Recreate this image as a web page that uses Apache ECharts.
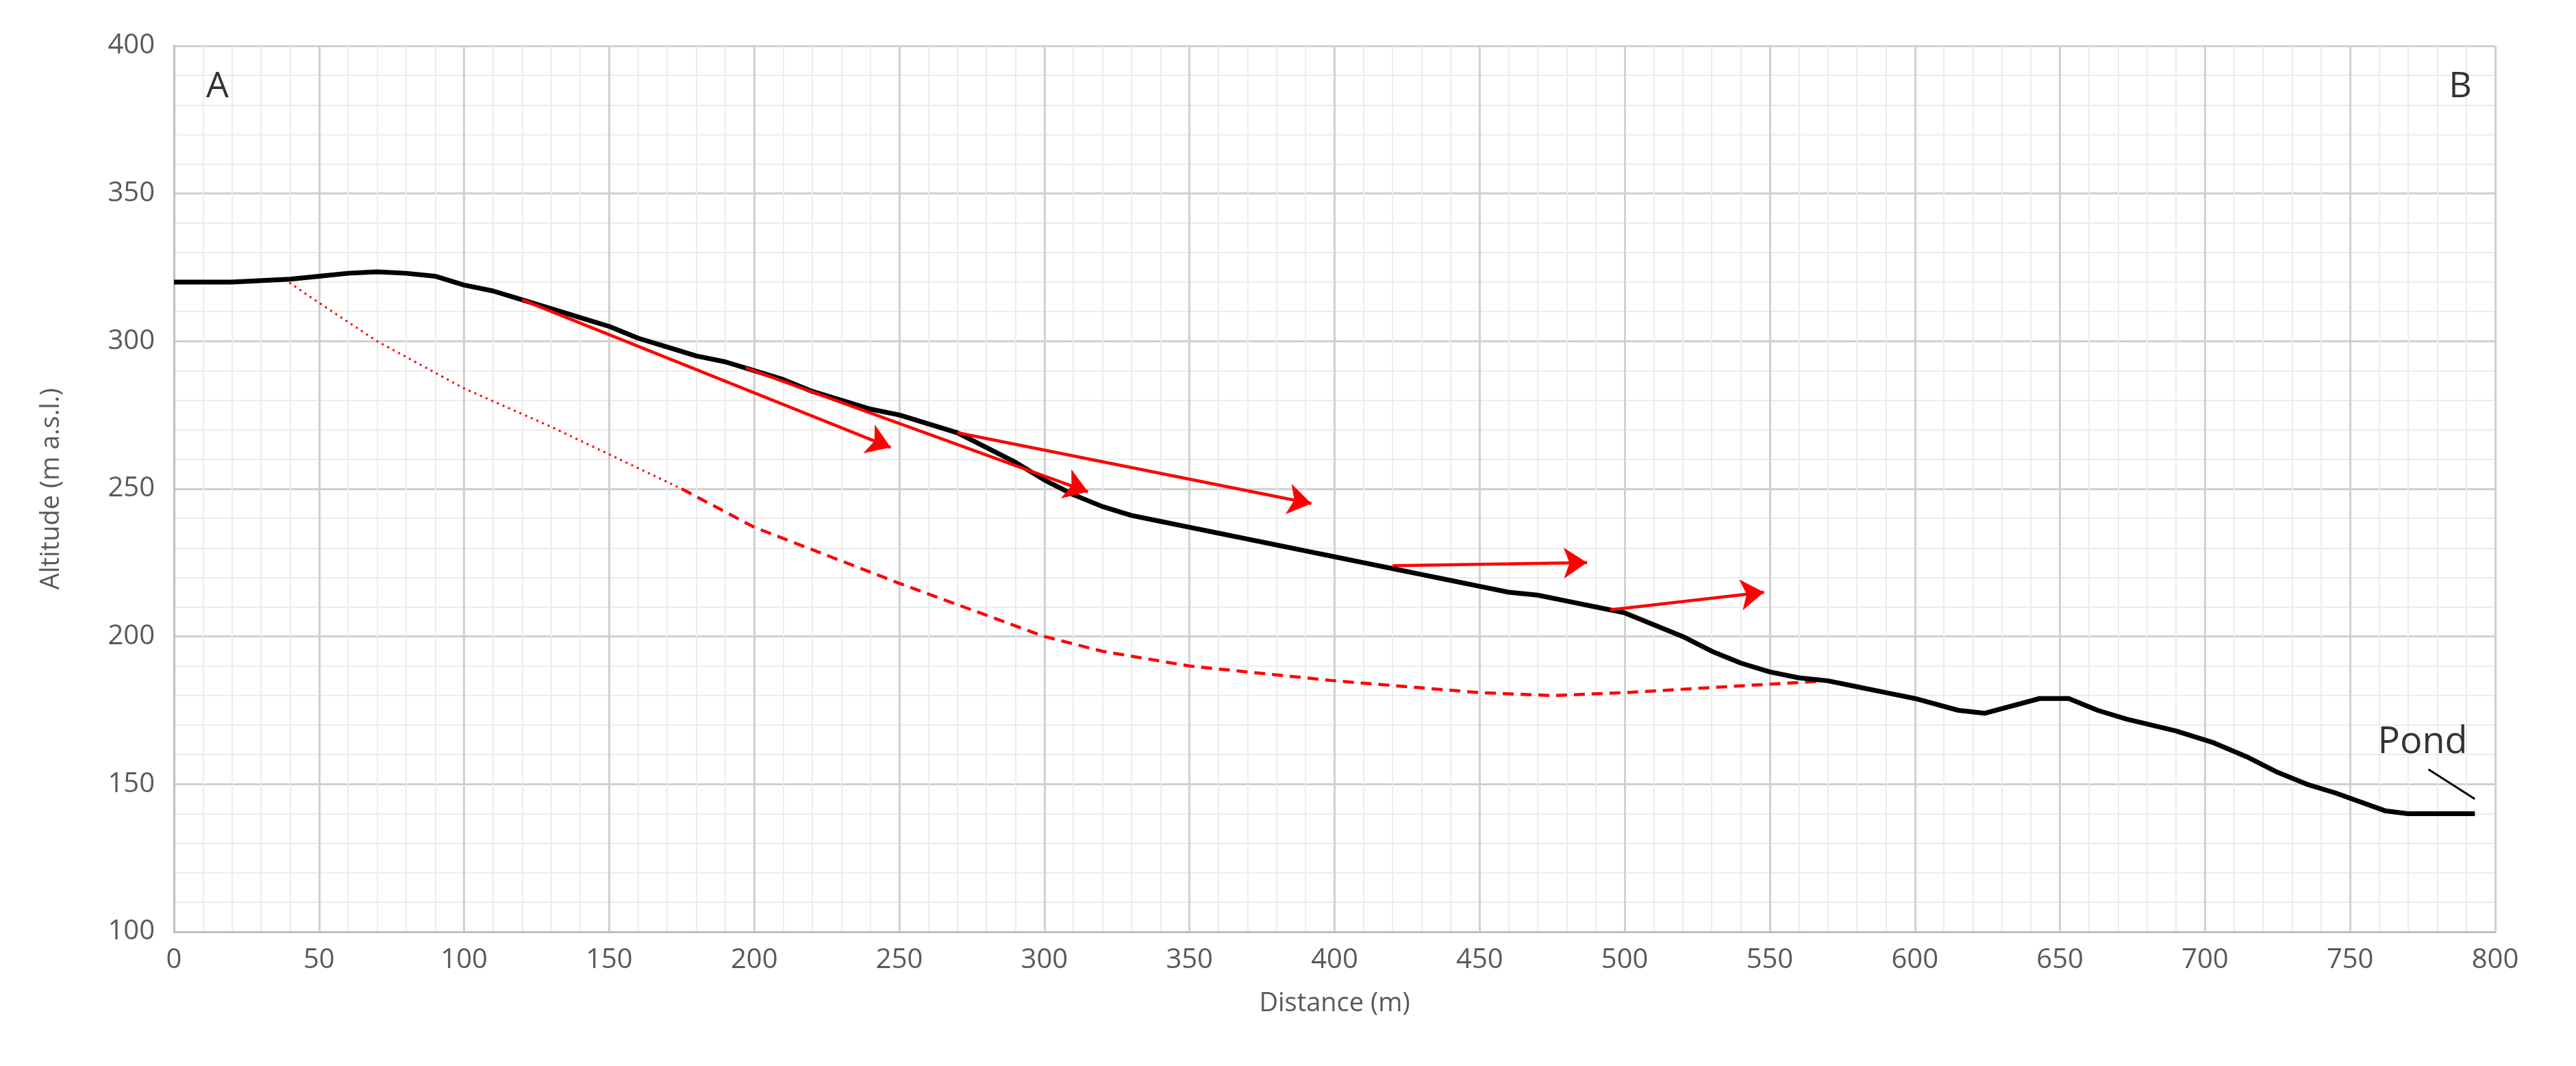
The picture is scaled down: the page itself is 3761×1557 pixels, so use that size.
<!DOCTYPE html>
<html><head><meta charset="utf-8">
<script src="https://cdn.jsdelivr.net/npm/echarts@6/dist/echarts.min.js"></script>
<style>html,body{margin:0;background:#fff}#c{width:3761px;height:1557px}</style></head>
<body><div id="c"></div>
<script>
const profile = [[0,320],[20,320],[40,321],[50,322],[60,323],[70,323.5],[80,323],[90,322],[100,319],[110,317],[120,314],[130,311],[140,308],[150,305],[160,301],[170,298],[180,295],[190,293],[200,290],[210,287],[220,283],[230,280],[240,277],[250,275],[260,272],[270,269],[280,264],[290,259],[300,253],[310,248],[320,244],[330,241],[340,239],[350,237],[360,235],[370,233],[380,231],[390,229],[400,227],[410,225],[420,223],[430,221],[440,219],[450,217],[460,215],[470,214],[480,212],[490,210],[500,208],[510,204],[520,200],[530,195],[540,191],[550,188],[560,186],[570,185],[580,183],[590,181],[600,179],[615,175],[624,174],[643,179],[653,179],[663,175],[673,172],[690,168],[703,164],[715,159],[725,154],[735,150],[745,147],[762,141],[770,140],[793,140]];
const slipDotted = [[38,321],[50,313],[70,300],[100,284],[130,271],[160,257],[175,250]];
const slipDashed = [[175,250],[200,237],[250,218],[300,200],[320,195],[350,190],[400,185],[450,181],[475,180],[500,181],[570,185]];
const arrows = [[[120,314],[247,264]],[[197,291],[315,249]],[[270,269],[392,245]],[[420,224],[487,225]],[[495,209],[548,215]]];
const pondPointer = [[777,155],[793,145]];
const font = 'Open Sans';
const chart = echarts.init(document.getElementById('c'));
chart.setOption({
  animation:false,
  grid:{left:254,right:118,top:67,bottom:196},
  xAxis:{type:'value',min:0,max:800,interval:50,name:'Distance (m)',nameLocation:'middle',nameGap:86,
    nameTextStyle:{color:'#595959',fontSize:38,fontFamily:font},
    axisLabel:{color:'#595959',fontSize:40,fontFamily:font,margin:22},
    axisLine:{lineStyle:{color:'#bfbfbf',width:3}},axisTick:{show:false},
    splitLine:{lineStyle:{color:'#d0d0d0',width:3}},
    minorTick:{show:false,splitNumber:5},minorSplitLine:{show:true,lineStyle:{color:'#ececec',width:2}}},
  yAxis:{type:'value',min:100,max:400,interval:50,name:'Altitude (m a.s.l.)',nameLocation:'middle',nameGap:160,
    nameTextStyle:{color:'#595959',fontSize:38,fontFamily:font},
    axisLabel:{color:'#595959',fontSize:40,fontFamily:font,margin:28},
    axisLine:{show:true,lineStyle:{color:'#bfbfbf',width:3}},axisTick:{show:false},
    splitLine:{lineStyle:{color:'#d0d0d0',width:3}},
    minorTick:{show:false,splitNumber:5},minorSplitLine:{show:true,lineStyle:{color:'#ececec',width:2}}},
  series:[
    {type:'line',data:slipDotted,symbol:'none',lineStyle:{color:'#ff0000',width:3,type:[3,6]}},
    {type:'line',data:slipDashed,symbol:'none',lineStyle:{color:'#ff0000',width:4.5,type:[16,10]}},
    {type:'line',data:profile,symbol:'none',lineStyle:{color:'#000',width:7},z:3},
    {type:'lines',coordinateSystem:'cartesian2d',z:4,
     data:arrows.map(a=>({coords:a})),
     symbol:['none','arrow'],symbolSize:34,
     lineStyle:{color:'#ff0000',width:4.5,opacity:1}},
    {type:'lines',coordinateSystem:'cartesian2d',z:4,data:[{coords:pondPointer}],
     lineStyle:{color:'#000',width:3,opacity:1}},
    {type:'scatter',symbolSize:0,z:5,
     data:[
       {value:[15,386],label:{show:true,formatter:'A',fontSize:52,fontFamily:font,color:'#000',position:'inside'}},
       {value:[788,386],label:{show:true,formatter:'B',fontSize:52,fontFamily:font,color:'#000',position:'inside'}},
       {value:[775,164],label:{show:true,formatter:'Pond',fontSize:54,fontFamily:font,color:'#000',position:'inside'}}
     ]}
  ]
});
</script></body></html>
